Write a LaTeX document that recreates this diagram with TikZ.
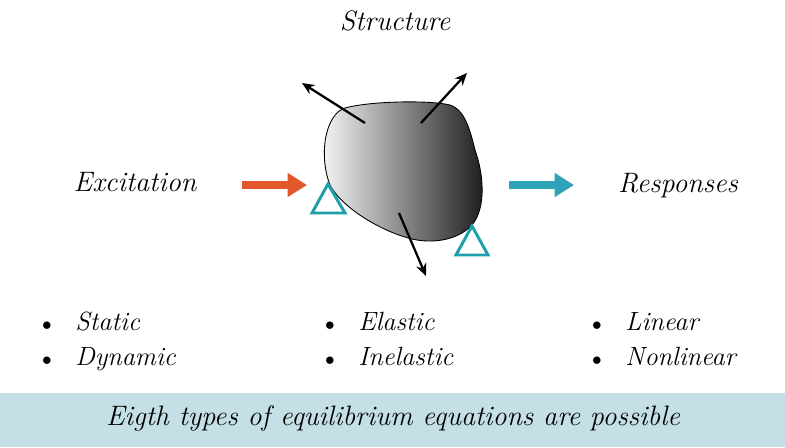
\documentclass[tikz,border=0pt]{standalone}
\usepackage{tikz}
\usetikzlibrary{arrows.meta,positioning,calc}
\definecolor{bandblue}{RGB}{196,224,230}
\definecolor{excitered}{RGB}{226,88,44}
\definecolor{respteal}{RGB}{44,163,182}
\definecolor{suppteal}{RGB}{30,160,170}

\begin{document}
\begin{tikzpicture}[
    x=0.02cm, y=-0.02cm,
    label/.style={font=\fontsize{16}{19}\selectfont\itshape, inner sep=0pt},
    item/.style={font=\fontsize{15}{18}\selectfont\itshape, inner sep=0pt, anchor=base west},
    bigarrow/.style={-{Triangle[length=11pt, width=13pt]}, line width=4pt},
    force/.style={-{Stealth[length=7pt, width=6pt]}, line width=1.3pt},
    support/.style={draw=suppteal, line width=1.7pt, line join=miter}
]
\useasboundingbox (0,0) rectangle (785,447);

% bottom band
\fill[bandblue] (0,393) rectangle (785,447);
\node[label] (note) at (393,418) {Eigth types of equilibrium equations are possible};

% titles
\node[label] (structure) at (395,21) {Structure};
\node[label] (excitation) at (135,182) {Excitation};
\node[label] (responses) at (678,186) {Responses};

% body
\draw[line width=0.5pt, left color=black!4, right color=black!90]
  (345,108) .. controls (370,101) and (430,100) .. (450,105)
  .. controls (465,110) and (470,130) .. (475,150)
  .. controls (483,172) and (487,207) .. (472,225)
  .. controls (455,243) and (425,244) .. (405,237)
  .. controls (375,228) and (340,205) .. (330,185)
  .. controls (322,165) and (322,135) .. (333,118)
  .. controls (337,112) and (340,110) .. (345,108) -- cycle;

% supports
\draw[support] (328,184) -- (345,213) -- (312,213) -- cycle;
\draw[support] (472,226) -- (488,255) -- (456,255) -- cycle;

% in and out
\coordinate (ex1) at (242,185);
\coordinate (ex2) at (307,185);
\coordinate (re1) at (509,185);
\coordinate (re2) at (574,185);
\draw[bigarrow, excitered] (ex1) -- (ex2);
\draw[bigarrow, respteal] (re1) -- (re2);

% forces
\coordinate (f1) at (365,123);
\coordinate (f1e) at (302,83);
\coordinate (f2) at (421,123);
\coordinate (f2e) at (467,73);
\coordinate (f3) at (399,213);
\coordinate (f3e) at (426,276);
\foreach \i/\j in {f1/f1e, f2/f2e, f3/f3e}
  \draw[force] (\i) -- (\j);

% lists
\node[item] (static) at (75,330) {Static};
\node[item] (dynamic) at (75,365) {Dynamic};
\node[item] (elastic) at (358,330) {Elastic};
\node[item] (inelastic) at (358,365) {Inelastic};
\node[item] (linear) at (625,330) {Linear};
\node[item] (nonlinear) at (625,365) {Nonlinear};
\foreach \n in {static, dynamic, elastic, inelastic, linear, nonlinear}
  \node[font=\fontsize{11}{13}\selectfont, inner sep=0pt, anchor=base] at ([xshift=-16pt]\n.base west) {$\bullet$};
\end{tikzpicture}
\end{document}
